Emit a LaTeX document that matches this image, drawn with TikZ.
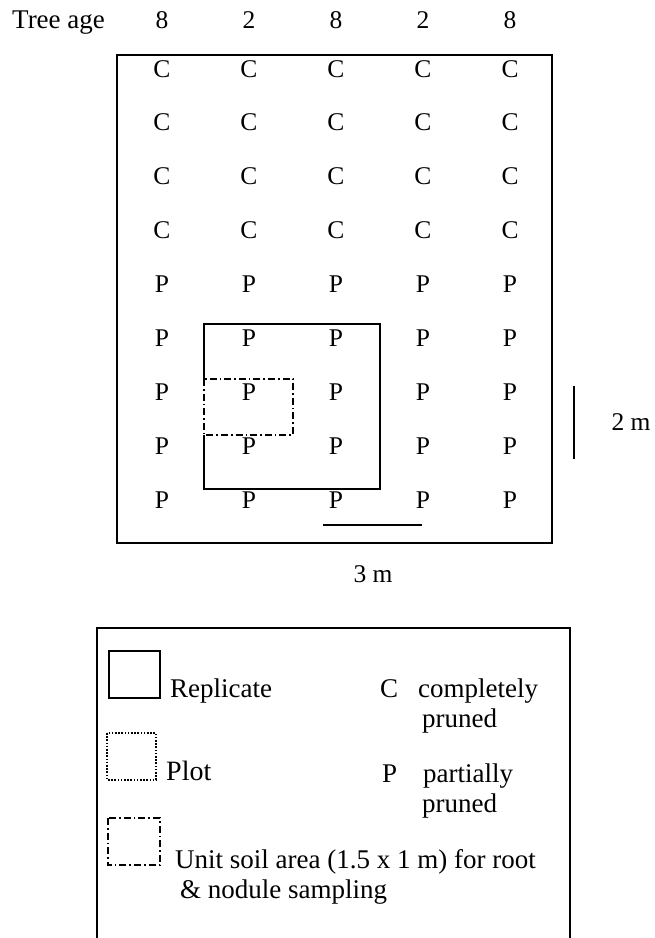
\documentclass[tikz,border=0pt]{standalone}
\usepackage{fontspec}
\setmainfont{Liberation Serif}
\begin{document}
\begin{tikzpicture}[x=1pt,y=-1pt,
  lbl/.style={inner sep=0pt, font=\fontsize{25.5}{30}\selectfont},
  leg/.style={inner sep=0pt, anchor=base west, font=\fontsize{27}{32}\selectfont},
  tree/.style={lbl, anchor=base},
  txt/.style={lbl, anchor=base west},
  frame/.style={line width=1.3pt},
  plotline/.style={line width=1.3pt, dash pattern=on 1.6pt off 1.6pt},
  soilline/.style={line width=1.3pt, dash pattern=on 7pt off 3pt on 1.6pt off 3pt}]
\useasboundingbox (0,0) rectangle (655,938);

% header: tree age of each row
\node[txt, font=\fontsize{27}{32}\selectfont] (agelabel) at (12,28) {Tree age};
\foreach \a [count=\i] in {8,2,8,2,8}
  \node[tree] (age\i) at ({162+87*(\i-1)},28) {\a};

% field grid: four rows completely pruned, five rows partially pruned
\foreach \j in {0,...,8}{
  \pgfmathsetmacro{\yy}{77+53.9*\j}
  \foreach \i in {1,...,5}{
    \ifnum\j<4
      \node[tree] (t\j-\i) at ({162+87*(\i-1)},\yy) {C};
    \else
      \node[tree] (t\j-\i) at ({162+87*(\i-1)},\yy) {P};
    \fi
  }
}

% field boundary
\draw[frame] (117,55) rectangle (552,543);

% replicate, open where the unit soil area takes its left side
\draw[frame] (204,379) -- (204,324) -- (380,324) -- (380,489) -- (204,489) -- (204,435);
% unit soil area
\draw[soilline] (204,379) rectangle (293,435);

% scale bars
\coordinate (hs1) at (323,525);
\coordinate (hs2) at (422,525);
\draw[frame] (hs1) -- (hs2);
\node[tree] (hlabel) at (373,582) {3 m};
\coordinate (vs1) at (574,386);
\coordinate (vs2) at (574,459);
\draw[frame] (vs1) -- (vs2);
\node[tree] (vlabel) at (631,430) {2 m};

% legend
\draw[frame] (97,938) -- (97,628) -- (570,628) -- (570,938);
\draw[frame] (109,651) rectangle (160,698);
\node[leg] (legrep) at (170,697) {Replicate};
\draw[plotline] (107,733) rectangle (156,780);
\node[leg, font=\fontsize{28}{32}\selectfont] (legplot) at (166,780) {Plot};
\draw[soilline] (108,818) rectangle (160,865);
\node[leg] (legsoil) at (175,868) {Unit soil area (1.5 x 1 m) for root};
\node[leg] (legsoil2) at (180,898) {\& nodule sampling};
\node[leg] (legC) at (380,697) {C};
\node[leg] (legCt) at (418,697) {completely};
\node[leg] (legCt2) at (422,727) {pruned};
\node[leg] (legP) at (382,782) {P};
\node[leg] (legPt) at (423,782) {partially};
\node[leg] (legPt2) at (422,812) {pruned};
\end{tikzpicture}
\end{document}
